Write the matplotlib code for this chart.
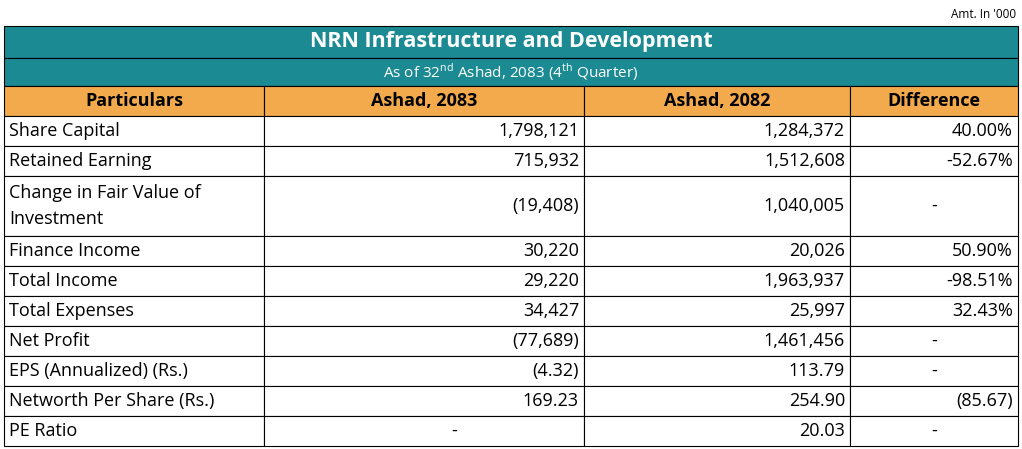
import matplotlib
matplotlib.use("Agg")
import matplotlib.pyplot as plt
from matplotlib.patches import Rectangle

TITLE = "NRN Infrastructure and Development"
SUBTITLE = "As of 32$^{\\mathregular{nd}}$ Ashad, 2083 (4$^{\\mathregular{th}}$ Quarter)"
UNIT_NOTE = "Amt. In '000"
HEADERS = ["Particulars", "Ashad, 2083", "Ashad, 2082", "Difference"]
particulars = ["Share Capital", "Retained Earning", "Change in Fair Value of\nInvestment",
               "Finance Income", "Total Income", "Total Expenses", "Net Profit",
               "EPS (Annualized) (Rs.)", "Networth Per Share (Rs.)", "PE Ratio"]
ashad_2083 = ["1,798,121", "715,932", "(19,408)", "30,220", "29,220", "34,427",
              "(77,689)", "(4.32)", "169.23", "-"]
ashad_2082 = ["1,284,372", "1,512,608", "1,040,005", "20,026", "1,963,937", "25,997",
              "1,461,456", "113.79", "254.90", "20.03"]
difference = ["40.00%", "-52.67%", "-", "50.90%", "-98.51%", "32.43%", "-", "-",
              "(85.67)", "-"]

TEAL = "#1b8a93"
ORANGE = "#f2aa4c"
FONT = "Open Sans"
FS = 13

W, H = 1022, 449
fig = plt.figure(figsize=(W / 100, H / 100), dpi=100)
ax = fig.add_axes([0, 0, 1, 1])
ax.set_xlim(0, W)
ax.set_ylim(H, 0)
ax.axis("off")

cols = [4, 264, 584, 850, 1018]
left, right = cols[0], cols[-1]

ax.text(1016, 14, UNIT_NOTE, ha="right", va="center", fontsize=8.5, family=FONT)

# title and subtitle bands
ax.add_patch(Rectangle((left, 26), right - left, 32, facecolor=TEAL, edgecolor="black", lw=0.8))
ax.text((left + right) / 2, 41, TITLE, ha="center", va="center", color="white",
        fontsize=15.5, fontweight="bold", family=FONT)
ax.add_patch(Rectangle((left, 58), right - left, 28, facecolor=TEAL, edgecolor="black", lw=0.8))
ax.text((left + right) / 2, 72, SUBTITLE, ha="center", va="center", color="white",
        fontsize=11, family=FONT)

# header row
for i, h in enumerate(HEADERS):
    ax.add_patch(Rectangle((cols[i], 86), cols[i + 1] - cols[i], 30, facecolor=ORANGE,
                           edgecolor="black", lw=0.8))
    ax.text((cols[i] + cols[i + 1]) / 2, 101, h, ha="center", va="center",
            fontsize=FS, fontweight="bold", family=FONT)

# body rows
dash_x = {1: 454, 2: 790, 3: 934}
y = 116
for name, a, b, d in zip(particulars, ashad_2083, ashad_2082, difference):
    rh = 60 if "\n" in name else 30
    for i in range(4):
        ax.add_patch(Rectangle((cols[i], y), cols[i + 1] - cols[i], rh, facecolor="white",
                               edgecolor="black", lw=0.8))
    yc = y + rh / 2
    ax.text(cols[0] + 5, yc, name, ha="left", va="center", fontsize=FS, family=FONT,
            linespacing=1.55)
    for i, v in ((1, a), (2, b), (3, d)):
        if v == "-":
            ax.text(dash_x[i], yc, v, ha="center", va="center", fontsize=FS, family=FONT)
        else:
            ax.text(cols[i + 1] - 5, yc, v, ha="right", va="center", fontsize=FS, family=FONT)
    y += rh

fig.savefig("out.png", dpi=100)
